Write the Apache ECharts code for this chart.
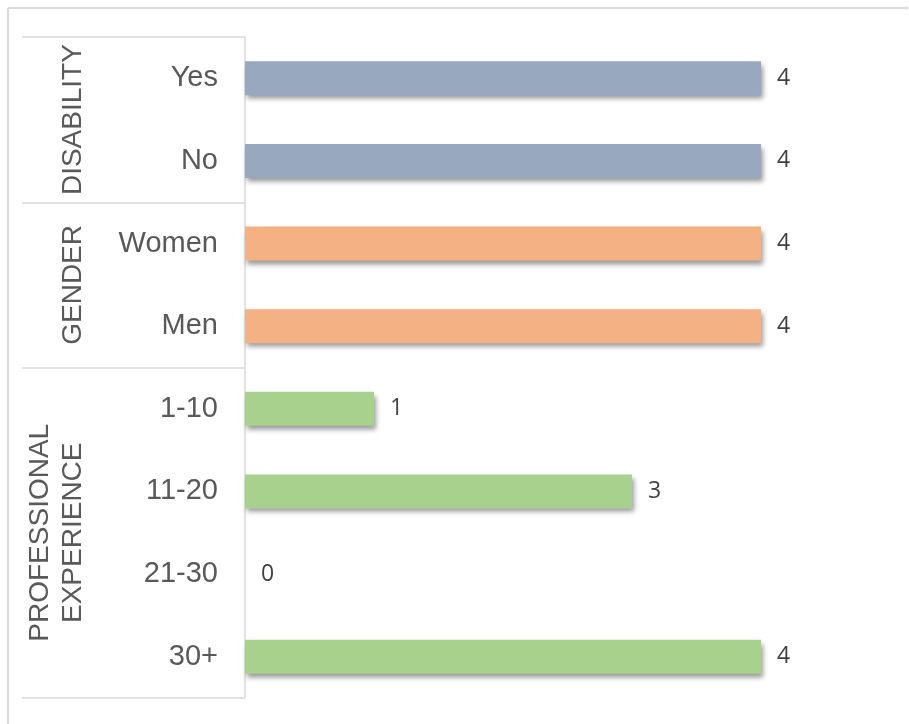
<!DOCTYPE html>
<html><head><meta charset="utf-8">
<script src="https://cdn.jsdelivr.net/npm/echarts@6/dist/echarts.min.js"></script>
<style>html,body{margin:0;padding:0;background:#fff}#c{width:909px;height:724px}</style>
</head><body><div id="c"></div>
<script>
var categories = ['Yes','No','Women','Men','1-10','11-20','21-30','30+'];
var values = [4,4,4,4,1,3,0,4];
var groupOf = [0,0,1,1,2,2,2,2];
var groupNames = ['DISABILITY','GENDER','PROFESSIONAL\nEXPERIENCE'];
var groupColors = ['#97A8BF','#F4B183','#A9D18E'];
var groupStarts = [0,2,4];

var chart = echarts.init(document.getElementById('c'));
var data = values.map(function(v,i){return {value:v,itemStyle:{color:groupColors[groupOf[i]]}};});
var option = {
  animation:false,
  grid:{left:245,right:148,top:37,bottom:26,containLabel:false},
  xAxis:{type:'value',min:0,max:4,show:false},
  yAxis:{type:'category',data:categories,inverse:true,
    axisLine:{show:true,lineStyle:{color:'#d9d9d9',width:1.5}},
    axisTick:{show:true,length:223,lineStyle:{color:'#d9d9d9',width:1.5},
      interval:function(i){return groupStarts.indexOf(i)>=0;}},
    axisLabel:{color:'#595959',fontSize:29,fontFamily:'Liberation Sans',margin:27,padding:[5,0,0,0]}
  },
  series:[{type:'bar',data:data,barWidth:'41%',
    itemStyle:{shadowColor:'rgba(0,0,0,0.4)',shadowBlur:5,shadowOffsetX:2,shadowOffsetY:4},
    label:{show:true,position:'right',distance:16,color:'#404040',fontSize:23,fontFamily:'Open Sans',padding:[5,0,0,0]}
  }],
  graphic:[
    {type:'line',shape:{x1:8,y1:8,x2:908,y2:8},style:{stroke:'#d9d9d9',lineWidth:2}},
    {type:'line',shape:{x1:8,y1:8,x2:8,y2:724},style:{stroke:'#d9d9d9',lineWidth:2}}
  ]
};
chart.setOption(option);
// group labels centred on each group's band
var gfx = option.graphic.slice();
groupNames.forEach(function(name,g){
  var idx = [];
  categories.forEach(function(c,i){ if(groupOf[i]===g) idx.push(i); });
  var y1 = chart.convertToPixel({yAxisIndex:0}, categories[idx[0]]);
  var y2 = chart.convertToPixel({yAxisIndex:0}, categories[idx[idx.length-1]]);
  var yc = (y1+y2)/2;
  var twoLine = name.indexOf('\n')>=0;
  gfx.push({type:'text',x:twoLine?57:73,y:yc,rotation:Math.PI/2,
    style:{text:name,fill:'#595959',font:'28px "Liberation Sans"',align:'center',verticalAlign:'middle',lineHeight:33}});
});
chart.setOption({graphic:gfx});
</script></body></html>
